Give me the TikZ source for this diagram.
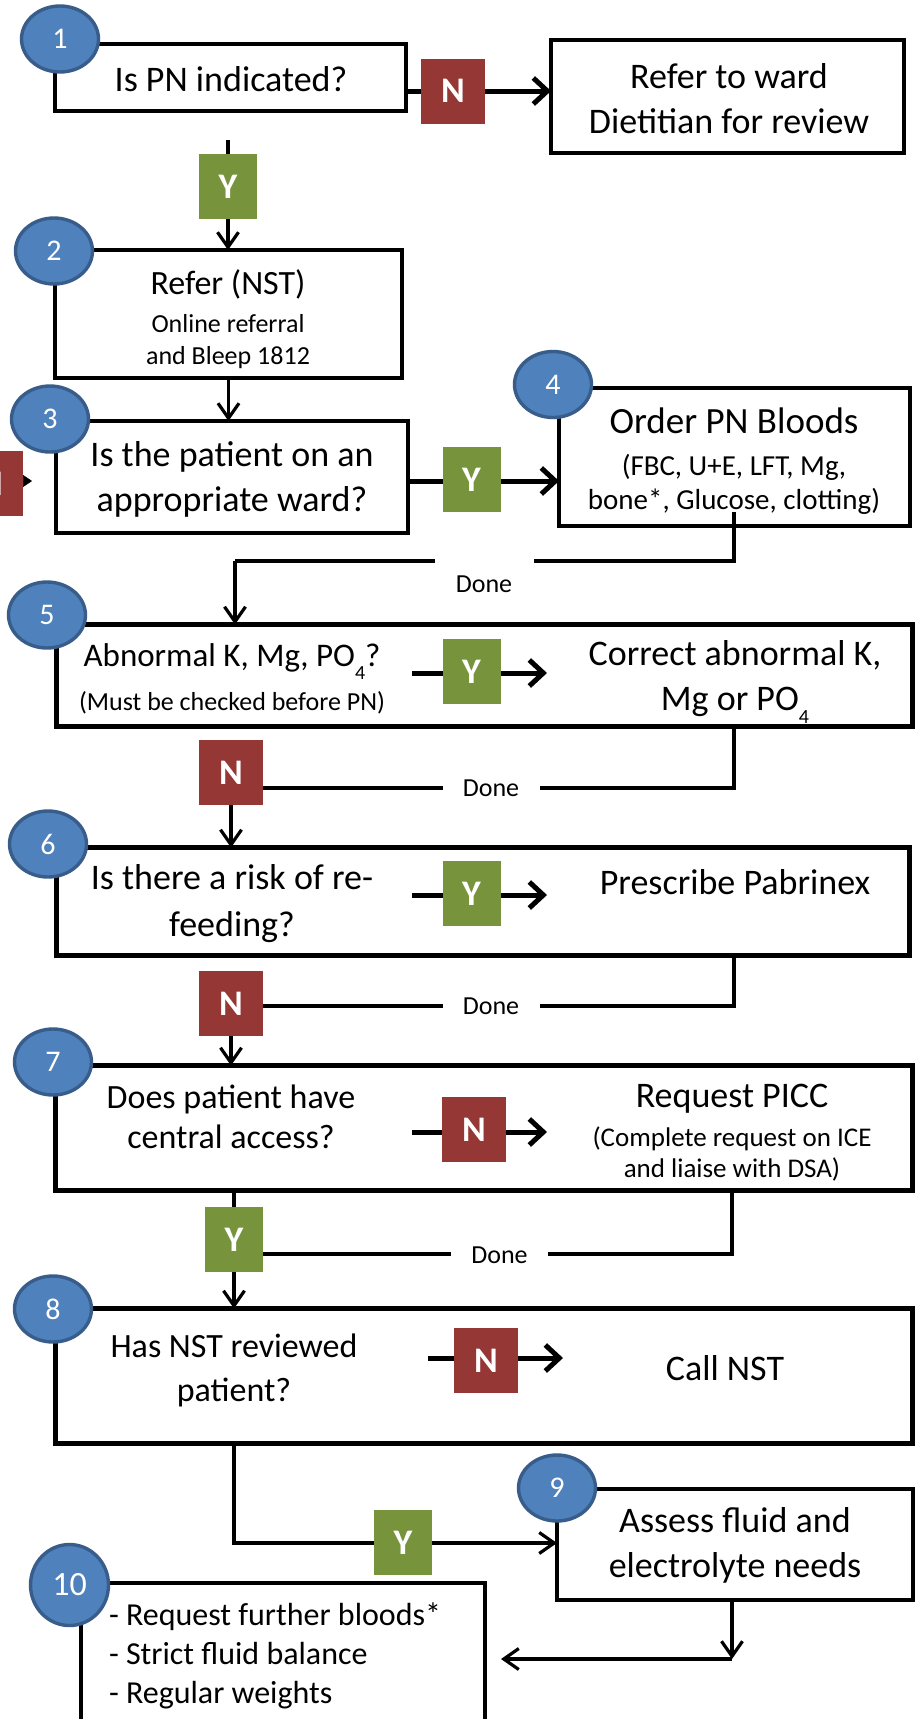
\documentclass[tikz,border=0pt]{standalone}
\usepackage{fontspec}
\setmainfont{Carlito}
\usetikzlibrary{arrows.meta,shapes.geometric}
\definecolor{cblue}{HTML}{4F81BD}
\definecolor{cblueb}{HTML}{385D8A}
\definecolor{cred}{HTML}{953735}
\definecolor{cgreen}{HTML}{77933C}
\newcommand{\fsz}[2]{\fontsize{#1}{#2}\selectfont}
\newcommand{\numtxt}[1]{\raisebox{-5pt}{#1}}
\newcommand{\lowsub}[1]{\raisebox{-13pt}{\fsz{20}{24}#1}}
\pgfdeclarelayer{front}
\pgfsetlayers{main,front}
\begin{document}
\begin{tikzpicture}[x=1pt,y=-1pt,
  every node/.style={inner sep=0pt, outer sep=0pt},
  fbox/.style={draw=black, fill=white, line width=4pt, rectangle},
  bigbox/.style={draw=black, fill=white, line width=5pt, rectangle},
  num/.style={ellipse, fill=cblue, draw=cblueb, line width=3.4pt, minimum width=77pt, minimum height=66pt, text=white, font=\fsz{30}{36}},
  ylab/.style={fill=cgreen, minimum width=58pt, minimum height=65pt, text=white, font=\fsz{36}{40}\bfseries},
  nlab/.style={fill=cred, minimum width=64pt, minimum height=65pt, text=white, font=\fsz{36}{40}\bfseries},
  arrthin/.style={line width=3.2pt, -{Straight Barb[length=15pt,width=21pt]}},
  arrthick/.style={line width=5pt, -{Straight Barb[length=14pt,width=26pt]}},
  conn/.style={line width=3.5pt},
  donelab/.style={font=\fsz{26}{30}, fill=white, minimum width=97pt, minimum height=30pt},
  big/.style={font=\fsz{36}{45}, align=center},
]
\useasboundingbox (0,0) rectangle (918,1719);
\clip (0,0) rectangle (918,1719);
\fill[white] (0,0) rectangle (918,1719);

% ---------- boxes ----------
\node[fbox, minimum width=351pt, minimum height=67pt] (box1) at (230.5,77.5) {};
\node[fbox, minimum width=353pt, minimum height=113pt] (refer) at (727.5,96.5) {};
\node[fbox, line width=3.5pt, minimum width=347pt, minimum height=128pt] (box2) at (228.5,314) {};
\node[fbox, minimum width=352pt, minimum height=112pt] (box3) at (232,477) {};
\node[fbox, minimum width=351pt, minimum height=138pt] (box4) at (734.5,457) {};
\node[bigbox, minimum width=856pt, minimum height=102pt] (box5) at (484.5,675.5) {};
\node[bigbox, minimum width=853pt, minimum height=108pt] (box6) at (483,901.5) {};
\node[bigbox, minimum width=857pt, minimum height=125pt] (box7) at (484,1128) {};
\node[bigbox, minimum width=857pt, minimum height=135pt] (box8) at (484,1376) {};
\node[fbox, minimum width=356pt, minimum height=111pt] (box9) at (735,1544.5) {};
\node[fbox, minimum width=404pt, minimum height=175pt] (box10) at (283,1670.5) {};

% ---------- texts ----------
\node[big] (t1) at (231,79) {Is PN indicated?};
\node[big] (tr) at (729,98.5) {Refer to ward\\Dietitian for review};
\node[align=center, font=\fsz{26}{32}] (t2) at (228,319) {{\fsz{34}{40}Refer (NST)}\\[6pt]Online referral\\and Bleep 1812};
\node[big] (t3) at (232,479.5) {Is the patient on an\\appropriate ward?};
\node[align=center, font=\fsz{29}{34}] (t4) at (734,461) {{\fsz{37}{44}Order PN Bloods}\\[8pt](FBC, U+E, LFT, Mg,\\bone*, Glucose, clotting)};
\node[align=center, font=\fsz{26}{32}] (q5) at (232,679) {{\fsz{33}{40}Abnormal K, Mg, PO\lowsub{4}?}\\[11pt](Must be checked before PN)};
\node[big] (a5) at (735,682) {Correct abnormal K,\\Mg or PO\lowsub{4}};
\node[align=center, font=\fsz{36}{47}] (q6) at (232,903.5) {Is there a risk of re-\\feeding?};
\node[big] (a6) at (735,882) {Prescribe Pabrinex};
\node[align=center, font=\fsz{34}{40}] (q7) at (231,1117) {Does patient have\\central access?};
\node[align=center, font=\fsz{27}{31}] (a7) at (732,1133) {{\fsz{36}{44}Request PICC}\\[8pt](Complete request on ICE\\and liaise with DSA)};
\node[align=center, font=\fsz{34}{44}] (q8) at (234,1370) {Has NST reviewed\\patient?};
\node[big] (a8) at (725,1368) {Call NST};
\node[big] (t9) at (735,1545.5) {Assess fluid and\\electrolyte needs};
\node[align=left, anchor=west, font=\fsz{32}{39}] (t10) at (109,1656) {- Request further bloods*\\- Strict fluid balance\\- Regular weights};

% ---------- labels and numbers (front) ----------
\begin{pgfonlayer}{front}
\node[nlab] (N1) at (453,91) {N};
\node[ylab] (Y1) at (228,186.5) {Y};
\node[ylab] (Y3) at (471.5,479.5) {Y};
\node[ylab] (Y5) at (471.5,671.5) {Y};
\node[nlab] (N5) at (231,772.5) {N};
\node[ylab] (Y6) at (471.5,893.5) {Y};
\node[nlab] (N6) at (231,1003.5) {N};
\node[nlab] (N7) at (474,1129.5) {N};
\node[ylab] (Y7) at (234,1239.5) {Y};
\node[nlab] (N8) at (486,1360.5) {N};
\node[ylab] (Y9) at (403,1542.5) {Y};
\node[nlab] (Np) at (-9,483.5) {N};

\node[num] (c1) at (60,39) {\numtxt{1}};
\node[num] (c2) at (54,251) {\numtxt{2}};
\node[num] (c3) at (50,419) {\numtxt{3}};
\node[num] (c4) at (553,384.5) {\numtxt{4}};
\node[num] (c5) at (47,615) {\numtxt{5}};
\node[num] (c6) at (48,844) {\numtxt{6}};
\node[num] (c7) at (53,1062) {\numtxt{7}};
\node[num] (c8) at (53,1309) {\numtxt{8}};
\node[num] (c9) at (557,1488) {\numtxt{9}};
\node[num, minimum width=78pt, minimum height=81pt, font=\fsz{34}{40}] (c10) at (69.5,1585) {10};

\node[font=\fsz{26}{30}] (done4) at (484,584) {Done};
\node[donelab] (done5) at (491,788) {Done};
\node[donelab] (done6) at (491,1006) {Done};
\node[donelab] (done7) at (499.5,1255) {Done};
\end{pgfonlayer}

% ---------- coordinates ----------
\coordinate (r1) at (0,91);
\coordinate (r3) at (0,481);
\coordinate (s5) at (412,673);  \coordinate (e5) at (547,673);
\coordinate (s6) at (412,895);  \coordinate (e6) at (547,895);
\coordinate (s7) at (412,1132); \coordinate (e7) at (547,1132);
\coordinate (s8) at (428,1358); \coordinate (e8) at (563,1358);
\coordinate (y1s) at (228,140);
\coordinate (d4s) at (734,512);
\coordinate (d4c) at (734,561);
\coordinate (d4g) at (534,561);
\coordinate (d4h) at (435,561);
\coordinate (d4e) at (235,561);
\coordinate (d5c) at (734,788);
\coordinate (d6c) at (734,1006);
\coordinate (d7c) at (732,1254);
\coordinate (d8c) at (234,1543);
\coordinate (d9s) at (732,1598);
\coordinate (d9c) at (732,1659);
\coordinate (d9e) at (501,1659);

% ---------- connectors ----------
\draw[arrthick] (box1.east |- r1) -- (refer.west |- r1);
\draw[conn] (y1s) -- (Y1.north);
\draw[arrthin] (Y1.south) -- (Y1.south |- box2.north);
\draw[arrthin] (box2.south) -- (box2.south |- box3.north);
\draw[line width=0.5pt, -{Triangle[length=9pt,width=12pt]}] (Np.east |- r3) -- ++(9,0);
\draw[arrthick] (box3.east |- r3) -- (box4.west |- r3);
\draw[conn] (d4s) -- (d4c) -- (d4g);
\draw[conn] (d4h) -- (d4e);
\draw[arrthin] (d4e) -- (d4e |- box5.north);
\draw[arrthick] (s5) -- (e5);
\draw[conn] (d5c |- box5.south) -- (d5c) -- (N5.east |- d5c);
\draw[arrthin] (N5.south) -- (N5.south |- box6.north);
\draw[arrthick] (s6) -- (e6);
\draw[conn] (d6c |- box6.south) -- (d6c) -- (N6.east |- d6c);
\draw[arrthin] (N6.south) -- (N6.south |- box7.north);
\draw[arrthick] (s7) -- (e7);
\draw[conn] (Y7.north |- box7.south) -- (Y7.north);
\draw[conn] (d7c |- box7.south) -- (d7c) -- (Y7.east |- d7c);
\draw[arrthin] (Y7.south) -- (Y7.south |- box8.north);
\draw[arrthick] (s8) -- (e8);
\draw[arrthin] (d8c |- box8.south) -- (d8c) -- (box9.west |- d8c);
\draw[arrthin] (d9s) -- (d9c);
\draw[arrthin] (d9c) -- (d9e);
\end{tikzpicture}
\end{document}
